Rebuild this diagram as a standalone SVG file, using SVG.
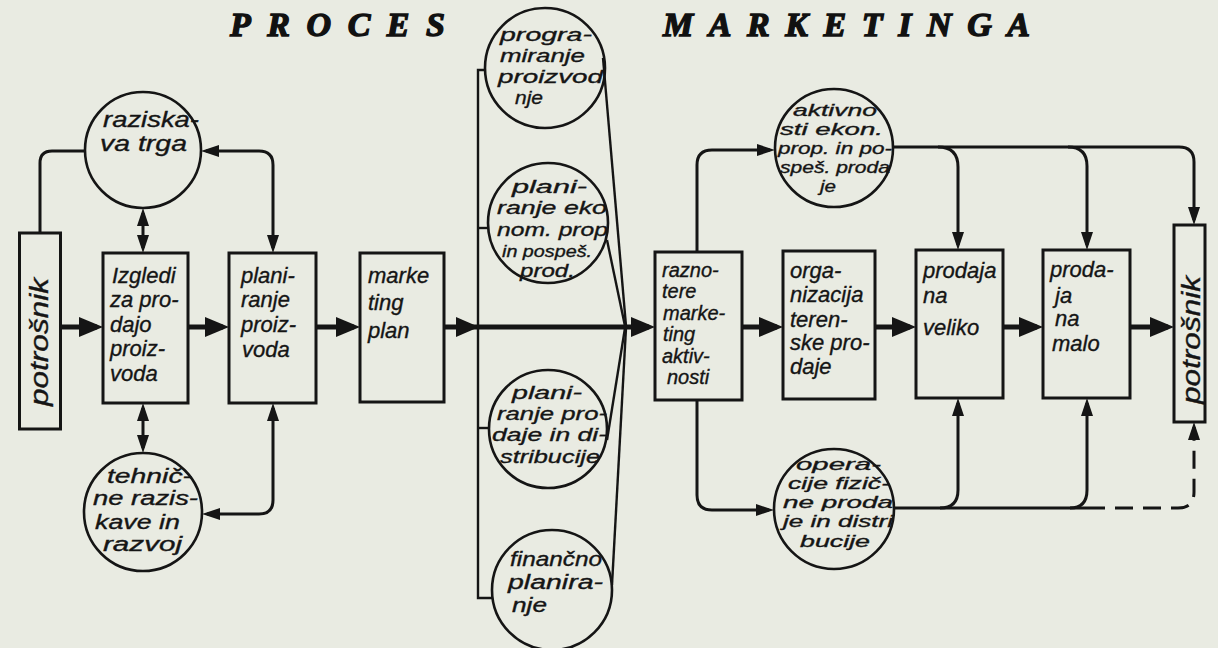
<svg xmlns="http://www.w3.org/2000/svg" width="1218" height="648" viewBox="0 0 1218 648">
<style>
.bg{fill:#e9ebe2}
.box{fill:none;stroke:#151515;stroke-width:3}
.cir{fill:none;stroke:#151515;stroke-width:2.6}
.lbl{font-family:"Liberation Sans",Arial,sans-serif;font-style:italic;font-size:22px;fill:#151515;stroke:#151515;stroke-width:0.35}
.c20{font-size:20px}
.c19{font-size:19px}
.c17{font-size:17px}
.ttl{font-family:"Liberation Serif","Times New Roman",serif;font-style:italic;font-weight:bold;font-size:34px;fill:#111;stroke:#111;stroke-width:1.4}
.main{fill:none;stroke:#151515;stroke-width:5}
.con{fill:none;stroke:#151515;stroke-width:3}
.thin{fill:none;stroke:#151515;stroke-width:2.4}
.dash{stroke-dasharray:18 10}
</style>
<defs>
<marker id="big" viewBox="0 0 24 20" refX="18" refY="10" markerWidth="24" markerHeight="20" markerUnits="userSpaceOnUse" orient="auto-start-reverse"><path d="M0,0 L24,10 L0,20 z" fill="#151515"/></marker>
<marker id="sma" viewBox="0 0 18 12" refX="13" refY="6" markerWidth="18" markerHeight="12" markerUnits="userSpaceOnUse" orient="auto-start-reverse"><path d="M0,0 L18,6 L0,12 z" fill="#151515"/></marker>
</defs>
<rect class="bg" x="0" y="0" width="1218" height="648"/>

<g id="title">
<text class="ttl" x="230" y="36" textLength="215" lengthAdjust="spacing">PROCES</text>
<text class="ttl" x="663" y="36" textLength="367" lengthAdjust="spacing">MARKETINGA</text>
</g>

<g id="connectors">
<path class="main" d="M60,327 H97" marker-end="url(#big)"/>
<path class="main" d="M188,327 H223" marker-end="url(#big)"/>
<path class="main" d="M316,327 H354" marker-end="url(#big)"/>
<path class="main" d="M444,327 H649" marker-end="url(#big)"/>
<polygon points="456,317 479,327 456,337" fill="#151515"/>
<path class="main" d="M742,327 H777" marker-end="url(#big)"/>
<path class="main" d="M875,327 H910" marker-end="url(#big)"/>
<path class="main" d="M1003,327 H1037" marker-end="url(#big)"/>
<path class="main" d="M1130,327 H1168" marker-end="url(#big)"/>

<path class="con" d="M143,213 V248" marker-start="url(#sma)" marker-end="url(#sma)"/>
<path class="con" d="M85,151 H52 Q40,151 40,163 V233"/>
<path class="con" d="M206,151 H259 Q273,151 273,165 V248" marker-start="url(#sma)" marker-end="url(#sma)"/>
<path class="con" d="M143,408 V448" marker-start="url(#sma)" marker-end="url(#sma)"/>
<path class="con" d="M207,514 H259 Q273,514 273,500 V408" marker-start="url(#sma)" marker-end="url(#sma)"/>

<path class="thin" d="M486,70 H478 V598 H493"/>
<path class="thin" d="M478,228 H488"/>
<path class="thin" d="M478,428 H489"/>
<path class="thin" d="M603,58 L626,326"/>
<path class="thin" d="M607,240 L625,326"/>
<path class="thin" d="M607,440 L625,328"/>
<path class="thin" d="M612,585 L626,328"/>

<path class="con" d="M697,252 V165 Q697,150 712,150 H770" marker-end="url(#sma)"/>
<path class="con" d="M893,147 H1179 Q1194,147 1194,162 V220" marker-end="url(#sma)"/>
<path class="con" d="M938,147 Q958,147 958,167 V245" marker-end="url(#sma)"/>
<path class="con" d="M1068,147 Q1087,147 1087,166 V245" marker-end="url(#sma)"/>

<path class="con" d="M697,400 V495 Q697,510 712,510 H769" marker-end="url(#sma)"/>
<path class="con" d="M894,508 H1087"/>
<path class="con" d="M940,508 Q958,508 958,490 V403" marker-end="url(#sma)"/>
<path class="con" d="M1070,508 Q1087,508 1087,490 V403" marker-end="url(#sma)"/>
<path class="con dash" d="M1087,508 H1178 Q1194,508 1194,492 V427" marker-end="url(#sma)"/>
</g>

<g id="potrosnik-left">
<rect class="box" x="19.5" y="233" width="41" height="196"/>
<text class="lbl" style="font-size:25px" transform="translate(48,342) rotate(-90)" text-anchor="middle" textLength="128" lengthAdjust="spacingAndGlyphs">potrošnik</text>
</g>

<g id="izgledi">
<rect class="box" x="103" y="253" width="85" height="150"/>
<text class="lbl"><tspan x="112" y="283">Izgledi</tspan><tspan x="110" y="307">za pro-</tspan><tspan x="110" y="332">dajo</tspan><tspan x="110" y="356">proiz-</tspan><tspan x="110" y="381">voda</tspan></text>
</g>

<g id="planiranje-proizvoda">
<rect class="box" x="229" y="253" width="87" height="150"/>
<text class="lbl"><tspan x="241" y="283">plani-</tspan><tspan x="241" y="307">ranje</tspan><tspan x="241" y="332">proiz-</tspan><tspan x="242" y="357">voda</tspan></text>
</g>

<g id="marketing-plan">
<rect class="box" x="360" y="253" width="84" height="149"/>
<text class="lbl"><tspan x="368" y="283">marke</tspan><tspan x="368" y="310">ting</tspan><tspan x="368" y="338">plan</tspan></text>
</g>

<g id="raziskava-trga">
<circle class="cir" cx="143" cy="150" r="58"/>
<text class="lbl"><tspan x="103" y="127" textLength="96" lengthAdjust="spacingAndGlyphs">raziska-</tspan><tspan x="100" y="151" textLength="87" lengthAdjust="spacingAndGlyphs">va trga</tspan></text>
</g>

<g id="tehnicne-raziskave">
<circle class="cir" cx="143" cy="512" r="59"/>
<text class="lbl c20"><tspan x="107" y="483" textLength="85" lengthAdjust="spacingAndGlyphs">tehnič-</tspan><tspan x="93" y="505" textLength="105" lengthAdjust="spacingAndGlyphs">ne razis-</tspan><tspan x="95" y="529" textLength="85" lengthAdjust="spacingAndGlyphs">kave in</tspan><tspan x="103" y="551" textLength="79" lengthAdjust="spacingAndGlyphs">razvoj</tspan></text>
</g>

<g id="programiranje">
<circle class="cir" cx="545" cy="68" r="60"/>
<text class="lbl c19"><tspan x="500" y="41" textLength="92" lengthAdjust="spacingAndGlyphs">progra-</tspan><tspan x="500" y="62" textLength="85" lengthAdjust="spacingAndGlyphs">miranje</tspan><tspan x="498" y="83" textLength="105" lengthAdjust="spacingAndGlyphs">proizvod</tspan><tspan x="515" y="104" textLength="28" lengthAdjust="spacingAndGlyphs">nje</tspan></text>
</g>

<g id="planiranje-ekon">
<circle class="cir" cx="548" cy="223" r="60"/>
<text class="lbl c19"><tspan x="512" y="193" textLength="75" lengthAdjust="spacingAndGlyphs">plani-</tspan><tspan x="497" y="214" textLength="110" lengthAdjust="spacingAndGlyphs">ranje eko</tspan><tspan x="497" y="236" textLength="111" lengthAdjust="spacingAndGlyphs">nom. prop</tspan><tspan class="c17" x="502" y="257" textLength="90" lengthAdjust="spacingAndGlyphs">in pospeš.</tspan><tspan x="520" y="277" textLength="55" lengthAdjust="spacingAndGlyphs">prod.</tspan></text>
</g>

<g id="planiranje-prodaje">
<circle class="cir" cx="548" cy="429" r="59"/>
<text class="lbl c19"><tspan x="512" y="399" textLength="70" lengthAdjust="spacingAndGlyphs">plani-</tspan><tspan x="497" y="420" textLength="110" lengthAdjust="spacingAndGlyphs">ranje pro-</tspan><tspan x="492" y="441" textLength="115" lengthAdjust="spacingAndGlyphs">daje in di-</tspan><tspan x="500" y="463" textLength="100" lengthAdjust="spacingAndGlyphs">stribucije</tspan></text>
</g>

<g id="financno-planiranje">
<circle class="cir" cx="552" cy="590" r="60"/>
<text class="lbl c20"><tspan x="510" y="566" textLength="92" lengthAdjust="spacingAndGlyphs">finančno</tspan><tspan x="508" y="589" textLength="95" lengthAdjust="spacingAndGlyphs">planira-</tspan><tspan x="512" y="612" textLength="35" lengthAdjust="spacingAndGlyphs">nje</tspan></text>
</g>

<g id="raznotere">
<rect class="box" x="655" y="252" width="87" height="148"/>
<text class="lbl c20"><tspan x="662" y="277">razno-</tspan><tspan x="662" y="298">tere</tspan><tspan x="663" y="320">marke-</tspan><tspan x="663" y="341">ting</tspan><tspan x="662" y="363">aktiv-</tspan><tspan x="667" y="384">nosti</tspan></text>
</g>

<g id="organizacija">
<rect class="box" x="783" y="251" width="92" height="148"/>
<text class="lbl"><tspan x="790" y="278">orga-</tspan><tspan x="790" y="302">nizacija</tspan><tspan x="790" y="327">teren-</tspan><tspan x="790" y="350">ske pro-</tspan><tspan x="790" y="374">daje</tspan></text>
</g>

<g id="prodaja-veliko">
<rect class="box" x="916" y="250" width="87" height="148"/>
<text class="lbl"><tspan x="923" y="278">prodaja</tspan><tspan x="923" y="303">na</tspan><tspan x="923" y="335">veliko</tspan></text>
</g>

<g id="prodaja-malo">
<rect class="box" x="1043" y="250" width="87" height="148"/>
<text class="lbl"><tspan x="1050" y="277">proda-</tspan><tspan x="1055" y="303">ja</tspan><tspan x="1055" y="326">na</tspan><tspan x="1052" y="351">malo</tspan></text>
</g>

<g id="potrosnik-right">
<rect class="box" x="1174" y="225" width="31" height="197"/>
<text class="lbl" style="font-size:25px" transform="translate(1200,340) rotate(-90)" text-anchor="middle" textLength="128" lengthAdjust="spacingAndGlyphs">potrošnik</text>
</g>

<g id="aktivnosti">
<circle class="cir" cx="834" cy="148" r="59"/>
<text class="lbl c17"><tspan x="793" y="116" textLength="84" lengthAdjust="spacingAndGlyphs">aktivno</tspan><tspan x="780" y="135" textLength="103" lengthAdjust="spacingAndGlyphs">sti ekon.</tspan><tspan x="778" y="154" textLength="114" lengthAdjust="spacingAndGlyphs">prop. in po-</tspan><tspan x="780" y="173" textLength="110" lengthAdjust="spacingAndGlyphs">speš. proda</tspan><tspan x="820" y="192" textLength="16" lengthAdjust="spacingAndGlyphs">je</tspan></text>
</g>

<g id="operacije">
<circle class="cir" cx="834" cy="509" r="60"/>
<text class="lbl c17"><tspan x="796" y="470" textLength="85" lengthAdjust="spacingAndGlyphs">opera-</tspan><tspan x="788" y="489" textLength="102" lengthAdjust="spacingAndGlyphs">cije fizič-</tspan><tspan x="783" y="508" textLength="110" lengthAdjust="spacingAndGlyphs">ne proda</tspan><tspan x="783" y="527" textLength="110" lengthAdjust="spacingAndGlyphs">je in distri</tspan><tspan x="800" y="547" textLength="70" lengthAdjust="spacingAndGlyphs">bucije</tspan></text>
</g>
</svg>
